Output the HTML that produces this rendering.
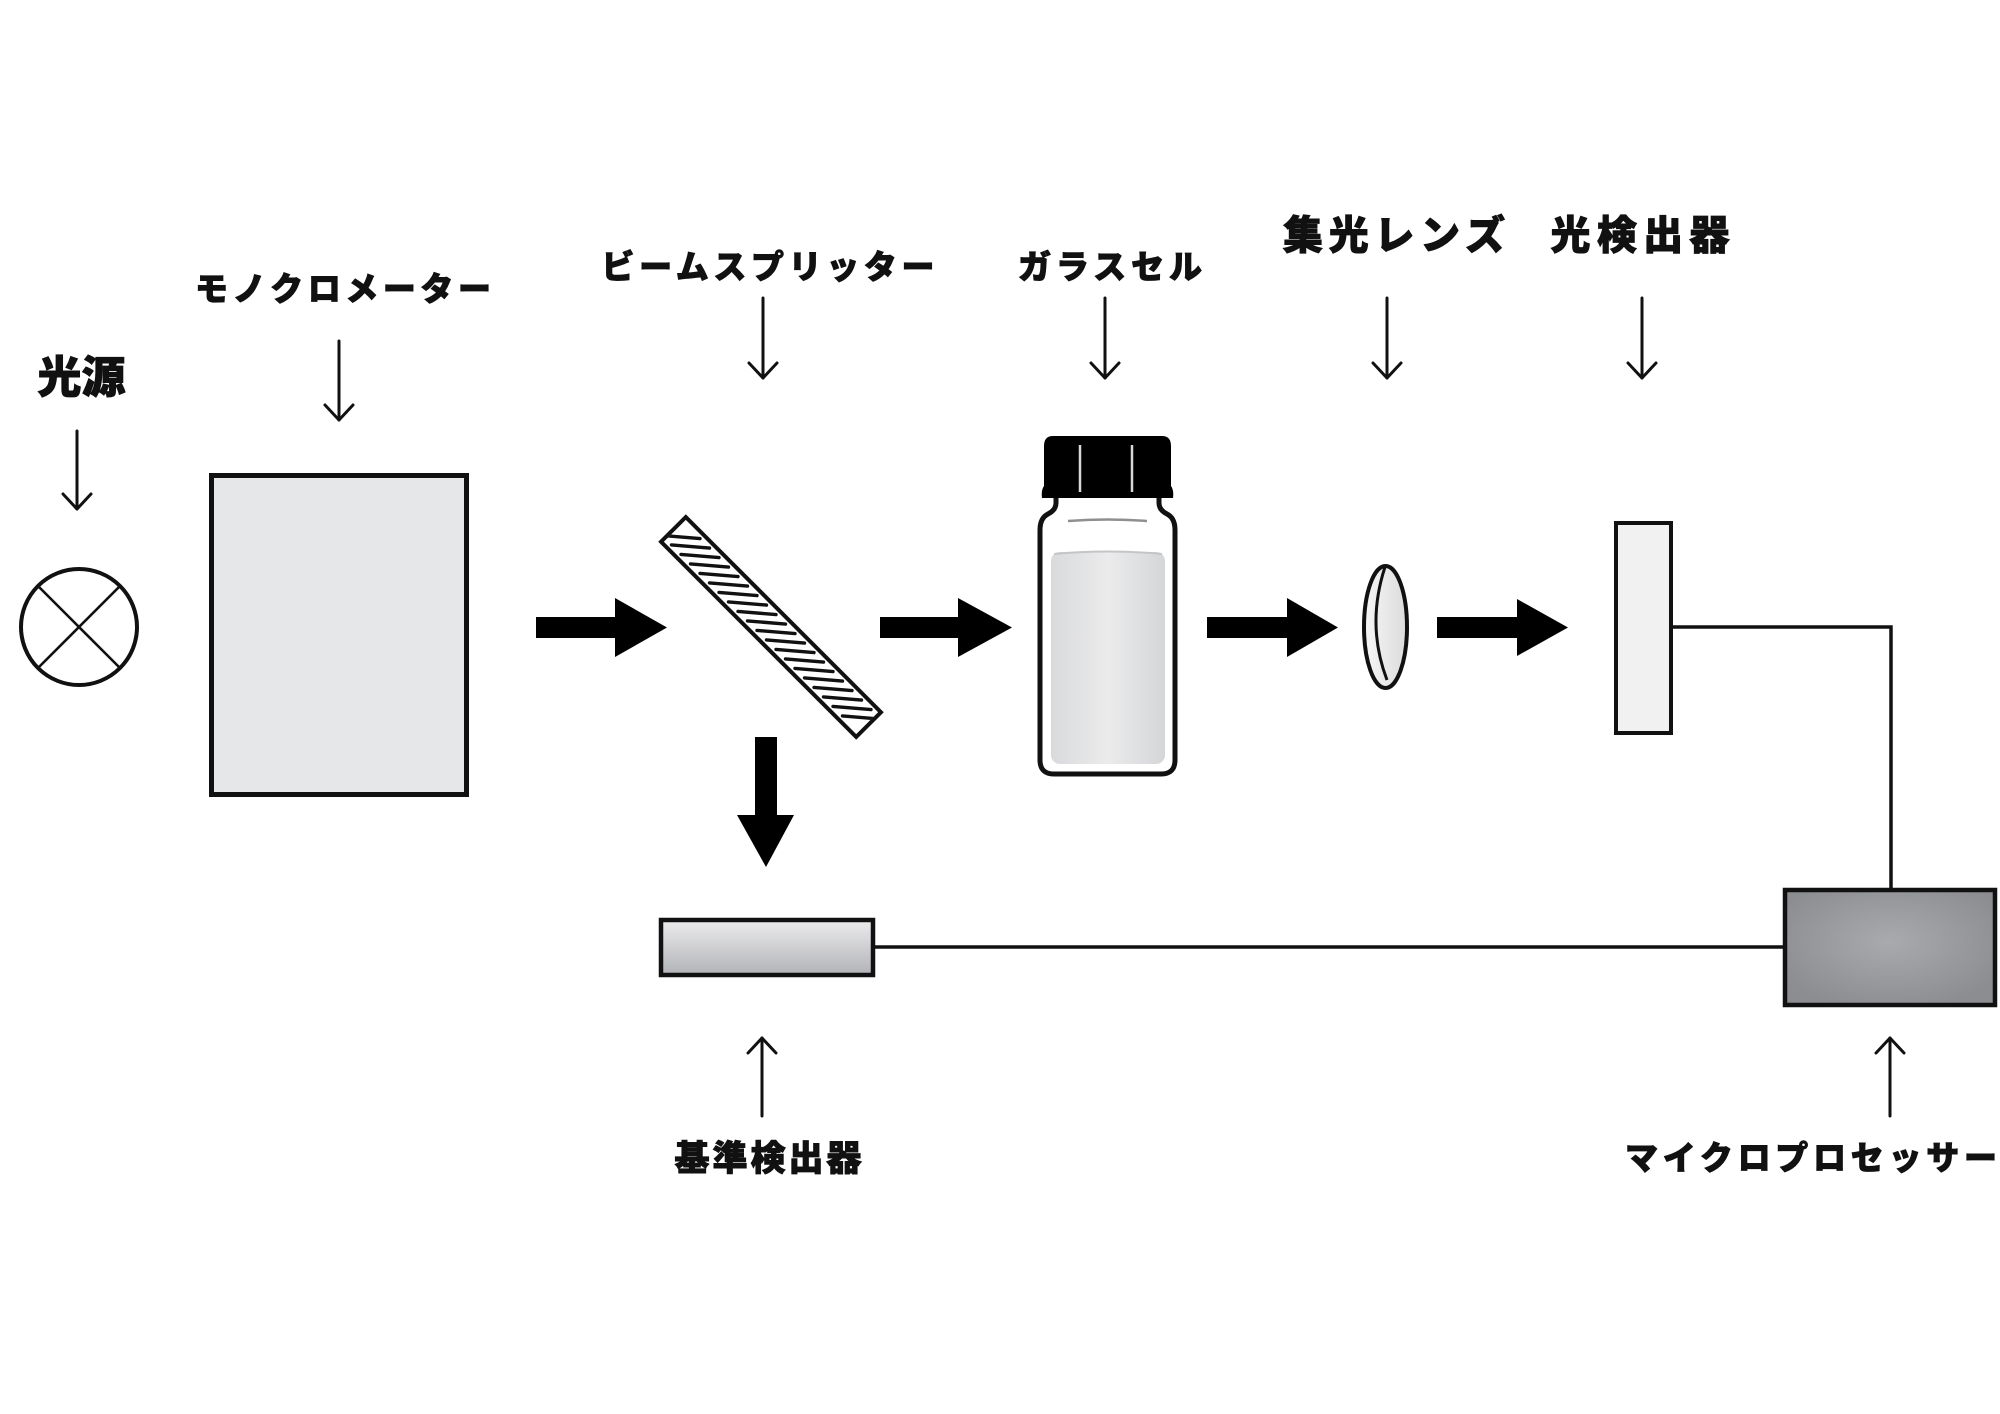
<!DOCTYPE html>
<html><head><meta charset="utf-8"><style>
html,body{margin:0;padding:0;background:#fff;}
svg{display:block;}
text{font-family:"Liberation Sans","Noto Sans CJK JP",sans-serif;font-weight:900;fill:#111;stroke:#111;stroke-width:0.9;}
</style></head><body>
<svg width="2000" height="1414" viewBox="0 0 2000 1414" xmlns="http://www.w3.org/2000/svg">
<defs>
<linearGradient id="refg" x1="0" y1="0" x2="0" y2="1">
<stop offset="0" stop-color="#ececee"/><stop offset="1" stop-color="#b2b3b7"/>
</linearGradient>
<radialGradient id="procg" cx="0.5" cy="0.45" r="0.6">
<stop offset="0" stop-color="#a9aaae"/><stop offset="1" stop-color="#8c8d91"/>
</radialGradient>
<linearGradient id="liqg" x1="0" y1="0" x2="1" y2="0">
<stop offset="0" stop-color="#d9dadc"/><stop offset="0.5" stop-color="#ebebec"/><stop offset="1" stop-color="#d5d6d8"/>
</linearGradient>
<linearGradient id="lensg" x1="0" y1="0" x2="1" y2="0">
<stop offset="0" stop-color="#f6f6f6"/><stop offset="1" stop-color="#dcdcdc"/>
</linearGradient>
<clipPath id="bandclip"><rect x="-136" y="-15.5" width="272" height="31" transform="translate(771,627) rotate(45)"/></clipPath>
</defs>

<!-- Labels -->
<text x="81.5" y="378" font-size="44" text-anchor="middle" dominant-baseline="central">光源</text>
<text x="343" y="289" font-size="33" text-anchor="middle" dominant-baseline="central" textLength="296" lengthAdjust="spacing">モノクロメーター</text>
<text x="768" y="267" font-size="33" text-anchor="middle" dominant-baseline="central" textLength="333" lengthAdjust="spacing">ビームスプリッター</text>
<text x="1110" y="267" font-size="33" text-anchor="middle" dominant-baseline="central" textLength="184" lengthAdjust="spacing">ガラスセル</text>
<text x="1394" y="236" font-size="40" text-anchor="middle" dominant-baseline="central" textLength="222" lengthAdjust="spacing">集光レンズ</text>
<text x="1640" y="236" font-size="40" text-anchor="middle" dominant-baseline="central" textLength="179" lengthAdjust="spacing">光検出器</text>
<text x="768" y="1159" font-size="35" text-anchor="middle" dominant-baseline="central" textLength="187" lengthAdjust="spacing">基準検出器</text>
<text x="1811" y="1158" font-size="33" text-anchor="middle" dominant-baseline="central" textLength="372" lengthAdjust="spacing">マイクロプロセッサー</text>

<!-- Thin pointer arrows -->
<g stroke="#111" stroke-width="3" fill="none" stroke-linecap="round" stroke-linejoin="round">
<line x1="77" y1="431" x2="77" y2="509"/><polyline points="63,494 77,509 91,494"/>
<line x1="339" y1="341" x2="339" y2="420"/><polyline points="325,405 339,420 353,405"/>
<line x1="763" y1="298" x2="763" y2="378"/><polyline points="749,363 763,378 777,363"/>
<line x1="1105" y1="298" x2="1105" y2="378"/><polyline points="1091,363 1105,378 1119,363"/>
<line x1="1387" y1="298" x2="1387" y2="378"/><polyline points="1373,363 1387,378 1401,363"/>
<line x1="1642" y1="298" x2="1642" y2="378"/><polyline points="1628,363 1642,378 1656,363"/>
<line x1="762" y1="1038" x2="762" y2="1116"/><polyline points="748,1053 762,1038 776,1053"/>
<line x1="1890" y1="1038" x2="1890" y2="1116"/><polyline points="1876,1053 1890,1038 1904,1053"/>
</g>

<!-- Light source -->
<circle cx="79" cy="627" r="58" fill="#fff" stroke="#111" stroke-width="4"/>
<g stroke="#111" stroke-width="2.6">
<line x1="37.5" y1="585.5" x2="120.5" y2="668.5"/>
<line x1="120.5" y1="585.5" x2="37.5" y2="668.5"/>
</g>

<!-- Monochromator -->
<rect x="211.5" y="475.5" width="255" height="319" fill="#e6e7e8" stroke="#111" stroke-width="5"/>

<!-- Thick arrows -->
<g fill="#000">
<polygon points="536,617 615,617 615,598 667,627.5 615,657 615,638 536,638"/>
<polygon points="880,617 958,617 958,598 1012,627.5 958,657 958,638 880,638"/>
<polygon points="1207,617 1287,617 1287,598 1338,627.5 1287,657 1287,638 1207,638"/>
<polygon points="1437,617 1517,617 1517,599 1568,627.5 1517,656 1517,638 1437,638"/>
<polygon points="755,737 777,737 777,815 794,815 766,867 737,815 755,815"/>
</g>

<!-- Beam splitter -->
<rect x="-138" y="-17.5" width="276" height="35" transform="translate(771,627) rotate(45)" fill="#fff" stroke="#111" stroke-width="4"/>
<g clip-path="url(#bandclip)" stroke="#111" stroke-width="3.4" stroke-linecap="round">
<line x1="662" y1="535.4" x2="700" y2="538.6"/>
<line x1="671.5" y1="544.9" x2="709.5" y2="548.1"/>
<line x1="681" y1="554.4" x2="719" y2="557.6"/>
<line x1="690.5" y1="563.9" x2="728.5" y2="567.1"/>
<line x1="700" y1="573.4" x2="738" y2="576.6"/>
<line x1="709.5" y1="582.9" x2="747.5" y2="586.1"/>
<line x1="719" y1="592.4" x2="757" y2="595.6"/>
<line x1="728.5" y1="601.9" x2="766.5" y2="605.1"/>
<line x1="738" y1="611.4" x2="776" y2="614.6"/>
<line x1="747.5" y1="620.9" x2="785.5" y2="624.1"/>
<line x1="757" y1="630.4" x2="795" y2="633.6"/>
<line x1="766.5" y1="639.9" x2="804.5" y2="643.1"/>
<line x1="776" y1="649.4" x2="814" y2="652.6"/>
<line x1="785.5" y1="658.9" x2="823.5" y2="662.1"/>
<line x1="795" y1="668.4" x2="833" y2="671.6"/>
<line x1="804.5" y1="677.9" x2="842.5" y2="681.1"/>
<line x1="814" y1="687.4" x2="852" y2="690.6"/>
<line x1="823.5" y1="696.9" x2="861.5" y2="700.1"/>
<line x1="833" y1="706.4" x2="871" y2="709.6"/>
<line x1="842.5" y1="715.9" x2="880.5" y2="719.1"/>
</g>

<!-- Vial -->
<path d="M1056,496 L1056,503 Q1056,510 1048,514 Q1040,518 1040,530 L1040,760 Q1040,774 1054,774 L1161,774 Q1175,774 1175,760 L1175,530 Q1175,518 1167,514 Q1159,510 1159,503 L1159,496" fill="#fff" stroke="#111" stroke-width="5"/>
<rect x="1051" y="552" width="114" height="212" rx="9" fill="url(#liqg)"/>
<path d="M1054,554 Q1108,549 1162,554" fill="none" stroke="#c4c5c7" stroke-width="2"/>
<path d="M1068,521 Q1108,518 1147,521" fill="none" stroke="#8f8f8f" stroke-width="2.5"/>
<path d="M1053,436 L1162,436 Q1171,436 1171,446 L1171,486 Q1174,490 1173,498 L1042,498 Q1041,490 1044,486 L1044,446 Q1044,436 1053,436 Z" fill="#000"/>
<g stroke="#d8d8d8" stroke-width="2.5">
<line x1="1080" y1="445" x2="1080" y2="492"/>
<line x1="1132" y1="445" x2="1132" y2="492"/>
</g>

<!-- Lens -->
<ellipse cx="1385.5" cy="627" rx="21.5" ry="61" fill="url(#lensg)" stroke="#111" stroke-width="4"/>
<path d="M1385,567 Q1366,625 1387,680" fill="none" stroke="#111" stroke-width="3"/>

<!-- Detector -->
<rect x="1616" y="523" width="55" height="210" fill="#f1f1f1" stroke="#111" stroke-width="4"/>

<!-- Connectors -->
<polyline points="1673,627 1891,627 1891,890" fill="none" stroke="#111" stroke-width="3.5"/>
<line x1="875" y1="947" x2="1785" y2="947" stroke="#111" stroke-width="3.5"/>

<!-- Reference detector -->
<rect x="661" y="920" width="212" height="55" fill="url(#refg)" stroke="#111" stroke-width="4.5"/>

<!-- Microprocessor -->
<rect x="1785" y="890" width="210" height="115" fill="url(#procg)" stroke="#111" stroke-width="4.5"/>
</svg>
</body></html>
